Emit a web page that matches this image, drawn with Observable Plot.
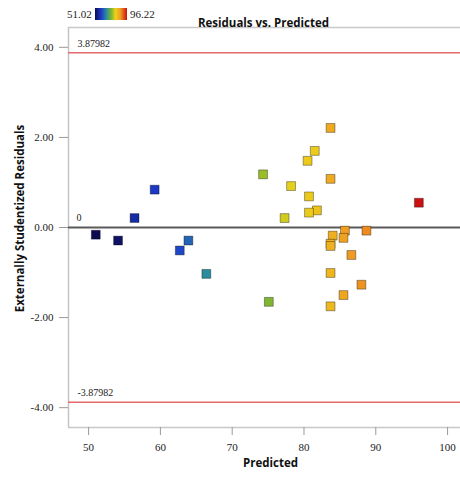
<!DOCTYPE html>
<html><head><meta charset="utf-8">
<script src="https://cdn.jsdelivr.net/npm/d3@7"></script>
<script src="https://cdn.jsdelivr.net/npm/@observablehq/plot@0.6"></script>
<style>
body{margin:0;background:#fff;}
#wrap{position:relative;width:460px;height:477px;overflow:hidden;}
.lg{position:absolute;font-family:"Liberation Serif","Times New Roman",serif;font-size:11px;color:#222;line-height:12px;}
</style></head><body><div id="wrap"></div>
<script>
const predicted = [51.0, 54.1, 56.4, 59.2, 62.7, 63.9, 66.4, 83.7, 81.5, 80.5, 74.3, 83.7, 78.2, 80.7, 81.8, 80.7, 77.3, 96.0, 85.7, 88.7, 84.0, 85.5, 83.7, 83.7, 86.6, 83.7, 88.0, 85.5, 75.1, 83.7];
const residuals = [-0.16, -0.29, 0.21, 0.84, -0.51, -0.29, -1.03, 2.21, 1.70, 1.48, 1.18, 1.08, 0.92, 0.69, 0.38, 0.33, 0.21, 0.55, -0.07, -0.07, -0.18, -0.23, -0.36, -0.41, -0.61, -1.01, -1.27, -1.50, -1.65, -1.75];
const actual = [51.02, 52.5, 57, 59.5, 61, 63.5, 67, 85, 81, 81, 75.5, 85, 79.5, 81, 82, 81, 78.5, 96.22, 86.5, 88, 84.5, 86, 84, 84, 87, 83.5, 87.5, 85.5, 74, 83];
const limits = [3.87982, -3.87982];
const limitLabels = ["3.87982", "-3.87982"];
const xTicks = [50, 60, 70, 80, 90, 100];
const yTicks = [-4, -2, 0, 2, 4];
const xDomain = [47.2, 101.8];
const yDomain = [-4.44, 4.44];
const colorLabels = ["51.02", "96.22"];
const colorStops = [51.02, 60, 67, 74.5, 80, 87, 96.22];
const colorRange = ["#0b0b50", "#1d3ccc", "#2a8c9c", "#86b92a", "#ecd21a", "#ef9a22", "#cc1111"];

const data = predicted.map((p, i) => ({p, r: residuals[i], a: actual[i]}));
const serif = "'Liberation Serif', 'Times New Roman', serif";
const sans = "'Open Sans', 'Liberation Sans', sans-serif";

const chart = Plot.plot({
  width: 460, height: 477,
  marginLeft: 68, marginRight: 0, marginTop: 27, marginBottom: 50,
  style: {fontFamily: serif, fontSize: "11px", color: "#222", background: "#fff"},
  x: {domain: xDomain, label: null},
  y: {domain: yDomain, label: null},
  color: {type: "linear", domain: colorStops, range: colorRange},
  marks: [
    Plot.ruleX([xDomain[0]], {stroke: "#c4c4c4", strokeWidth: 1.5}),
    Plot.ruleY(yDomain, {stroke: "#c8c8c8", strokeWidth: 1.5}),
    Plot.axisX({ticks: xTicks, tickSize: 8, tickPadding: 8, stroke: "#9a9a9a", fontFamily: serif, fontSize: 11, label: null}),
    Plot.axisY({ticks: yTicks, tickSize: 9, tickPadding: 6, stroke: "#9a9a9a", fontFamily: serif, fontSize: 11, tickFormat: d => d.toFixed(2), label: null}),
    Plot.ruleY(limits, {stroke: "#e36a6a", strokeWidth: 1.6}),
    Plot.ruleY([0], {stroke: "#5a5a5a", strokeWidth: 2}),
    Plot.text(limits, {y: d => d, text: (d, i) => limitLabels[i], frameAnchor: "left", dx: 9, dy: -9, textAnchor: "start", fontFamily: serif, fontSize: 10}),
    Plot.text([0], {y: d => d, text: d => String(d), frameAnchor: "left", dx: 8, dy: -10, textAnchor: "start", fontFamily: serif, fontSize: 10}),
    Plot.dot(data, {x: "p", y: "r", fill: "a", symbol: "square", r: 5, stroke: "#000", strokeOpacity: 0.35, strokeWidth: 1}),
    Plot.text(["Predicted"], {frameAnchor: "bottom", dx: 6, dy: 39, fontFamily: sans, fontWeight: "bold", fontSize: 11.5, fill: "#111"}),
    Plot.text(["Residuals vs. Predicted"], {frameAnchor: "top", dy: -9, dx: -1, fontFamily: sans, fontWeight: "bold", fontSize: 11.5, fill: "#111"}),
    Plot.text(["Externally Studentized Residuals"], {frameAnchor: "left", textAnchor: "middle", dx: -48, dy: -9, rotate: -90, fontFamily: sans, fontWeight: "bold", fontSize: 11.5, fill: "#111"})
  ]
});
const wrap = document.getElementById("wrap");
wrap.appendChild(chart);

const grad = "linear-gradient(to right," + colorRange.map((c, i) => c + " " + ((colorStops[i] - colorStops[0]) / (colorStops[colorStops.length - 1] - colorStops[0]) * 100).toFixed(1) + "%").join(",") + ")";
const bar = document.createElement("div");
bar.style.cssText = "position:absolute;left:95px;top:8px;width:32px;height:12px;background:" + grad + ";";
wrap.appendChild(bar);
const l1 = document.createElement("div"); l1.className = "lg"; l1.style.left = "67px"; l1.style.top = "8px"; l1.textContent = colorLabels[0];
const l2 = document.createElement("div"); l2.className = "lg"; l2.style.left = "130px"; l2.style.top = "8px"; l2.textContent = colorLabels[1];
wrap.appendChild(l1); wrap.appendChild(l2);
</script></body></html>
